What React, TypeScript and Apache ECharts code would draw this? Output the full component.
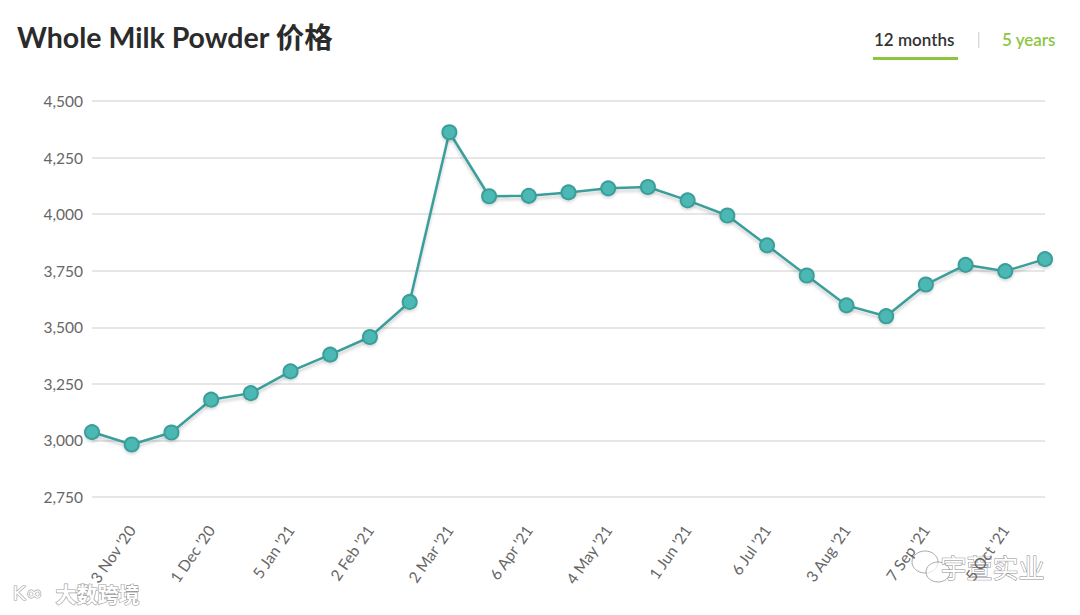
import React, { useEffect, useRef } from "react";
import * as echarts from "echarts";

const dates = [
  "20 Oct '20", "3 Nov '20", "17 Nov '20", "1 Dec '20", "15 Dec '20",
  "5 Jan '21", "19 Jan '21", "2 Feb '21", "16 Feb '21", "2 Mar '21",
  "16 Mar '21", "6 Apr '21", "20 Apr '21", "4 May '21", "18 May '21",
  "1 Jun '21", "15 Jun '21", "6 Jul '21", "20 Jul '21", "3 Aug '21",
  "17 Aug '21", "7 Sep '21", "21 Sep '21", "5 Oct '21", "19 Oct '21",
];

const prices = [
  3037, 2982, 3035, 3180, 3209,
  3305, 3379, 3457, 3612, 4362,
  4079, 4081, 4096, 4114, 4120,
  4061, 3994, 3862, 3729, 3597,
  3549, 3689, 3776, 3748, 3801,
];

const yMin = 2750;
const yMax = 4500;
const yStep = 250;

const titleText = "Whole Milk Powder 价格";
const tabLabels = ["12 months", "5 years"];

export default function App() {
  const ref = useRef<HTMLDivElement>(null);
  useEffect(() => {
    if (!ref.current) return;
    const chart = echarts.init(ref.current, null, { renderer: "svg" });
    chart.setOption({
      animation: false,
      backgroundColor: "#ffffff",
      title: {
        text: titleText,
        left: 12,
        top: 18,
        textStyle: {
          fontFamily: "Lato, 'Noto Sans CJK SC', sans-serif",
          fontSize: 28.5,
          fontWeight: "bold",
          color: "#2b2b2b",
        },
      },
      grid: { left: 92, right: 35, top: 101, bottom: 118, containLabel: false },
      xAxis: {
        type: "category",
        data: dates,
        boundaryGap: false,
        axisLine: { show: false },
        axisTick: { show: false },
        splitLine: { show: false },
        axisLabel: {
          interval: (i: number) => i % 2 === 1,
          rotate: 55,
          margin: 30,
          color: "#666666",
          fontSize: 15.5,
          fontFamily: "Lato, sans-serif",
        },
      },
      yAxis: {
        type: "value",
        min: yMin,
        max: yMax,
        interval: yStep,
        axisLine: { show: false },
        axisTick: { show: false },
        splitLine: { lineStyle: { color: "#e6e6e6", width: 2 } },
        axisLabel: {
          margin: 9,
          color: "#666666",
          fontSize: 15.5,
          fontFamily: "Lato, sans-serif",
          formatter: (v: number) => v.toLocaleString("en-US"),
        },
      },
      series: [
        {
          type: "line",
          data: prices,
          symbol: "circle",
          symbolSize: 14,
          lineStyle: {
            color: "#3a9e9b",
            width: 2.5,
            shadowColor: "rgba(0,0,0,0.18)",
            shadowBlur: 3,
            shadowOffsetY: 3,
          },
          itemStyle: {
            color: "#4bb8b4",
            borderColor: "#3a9e9b",
            borderWidth: 2,
            shadowColor: "rgba(0,0,0,0.15)",
            shadowBlur: 3,
            shadowOffsetY: 2,
          },
        },
      ],
      graphic: [
        {
          type: "text",
          left: 874,
          top: 31,
          style: {
            text: tabLabels[0],
            fontFamily: "Lato, sans-serif",
            fontSize: 17,
            fontWeight: 600,
            fill: "#333333",
          },
        },
        {
          type: "rect",
          shape: { x: 873, y: 57, width: 85, height: 3 },
          style: { fill: "#8cc63f" },
        },
        {
          type: "rect",
          shape: { x: 978, y: 32, width: 1.5, height: 16 },
          style: { fill: "#dddddd" },
        },
        {
          type: "text",
          left: 1002,
          top: 31,
          style: {
            text: tabLabels[1],
            fontFamily: "Lato, sans-serif",
            fontSize: 17,
            fontWeight: 600,
            fill: "#8cc63f",
          },
        },
        {
          type: "text",
          left: 55,
          top: 582,
          style: {
            text: "大数跨境",
            fontFamily: "'Noto Sans CJK SC', sans-serif",
            fontSize: 21,
            fontWeight: "bold",
            fill: "#ffffff",
            stroke: "#9a9a9a",
            lineWidth: 1.2,
          },
        },
        {
          type: "text",
          left: 12,
          top: 582,
          style: {
            text: "K∞",
            fontFamily: "'DejaVu Sans', sans-serif",
            fontSize: 20,
            fill: "#ffffff",
            stroke: "#9a9a9a",
            lineWidth: 1.2,
          },
        },
        {
          type: "ellipse",
          shape: { cx: 925, cy: 562, rx: 13, ry: 11 },
          style: { fill: "rgba(255,255,255,0.6)", stroke: "#aaaaaa", lineWidth: 1 },
        },
        {
          type: "ellipse",
          shape: { cx: 938, cy: 572, rx: 12, ry: 10 },
          style: { fill: "rgba(255,255,255,0.7)", stroke: "#aaaaaa", lineWidth: 1 },
        },
        {
          type: "text",
          left: 940,
          top: 553,
          style: {
            text: "宇萱实业",
            fontFamily: "'Noto Sans CJK SC', sans-serif",
            fontSize: 26,
            fill: "#ffffff",
            stroke: "#8a8a8a",
            lineWidth: 1,
          },
        },
      ],
    });
    return () => chart.dispose();
  }, []);
  return (
    <div
      ref={ref}
      style={{ position: "fixed", left: 0, top: 0, width: 1080, height: 615 }}
    />
  );
}
